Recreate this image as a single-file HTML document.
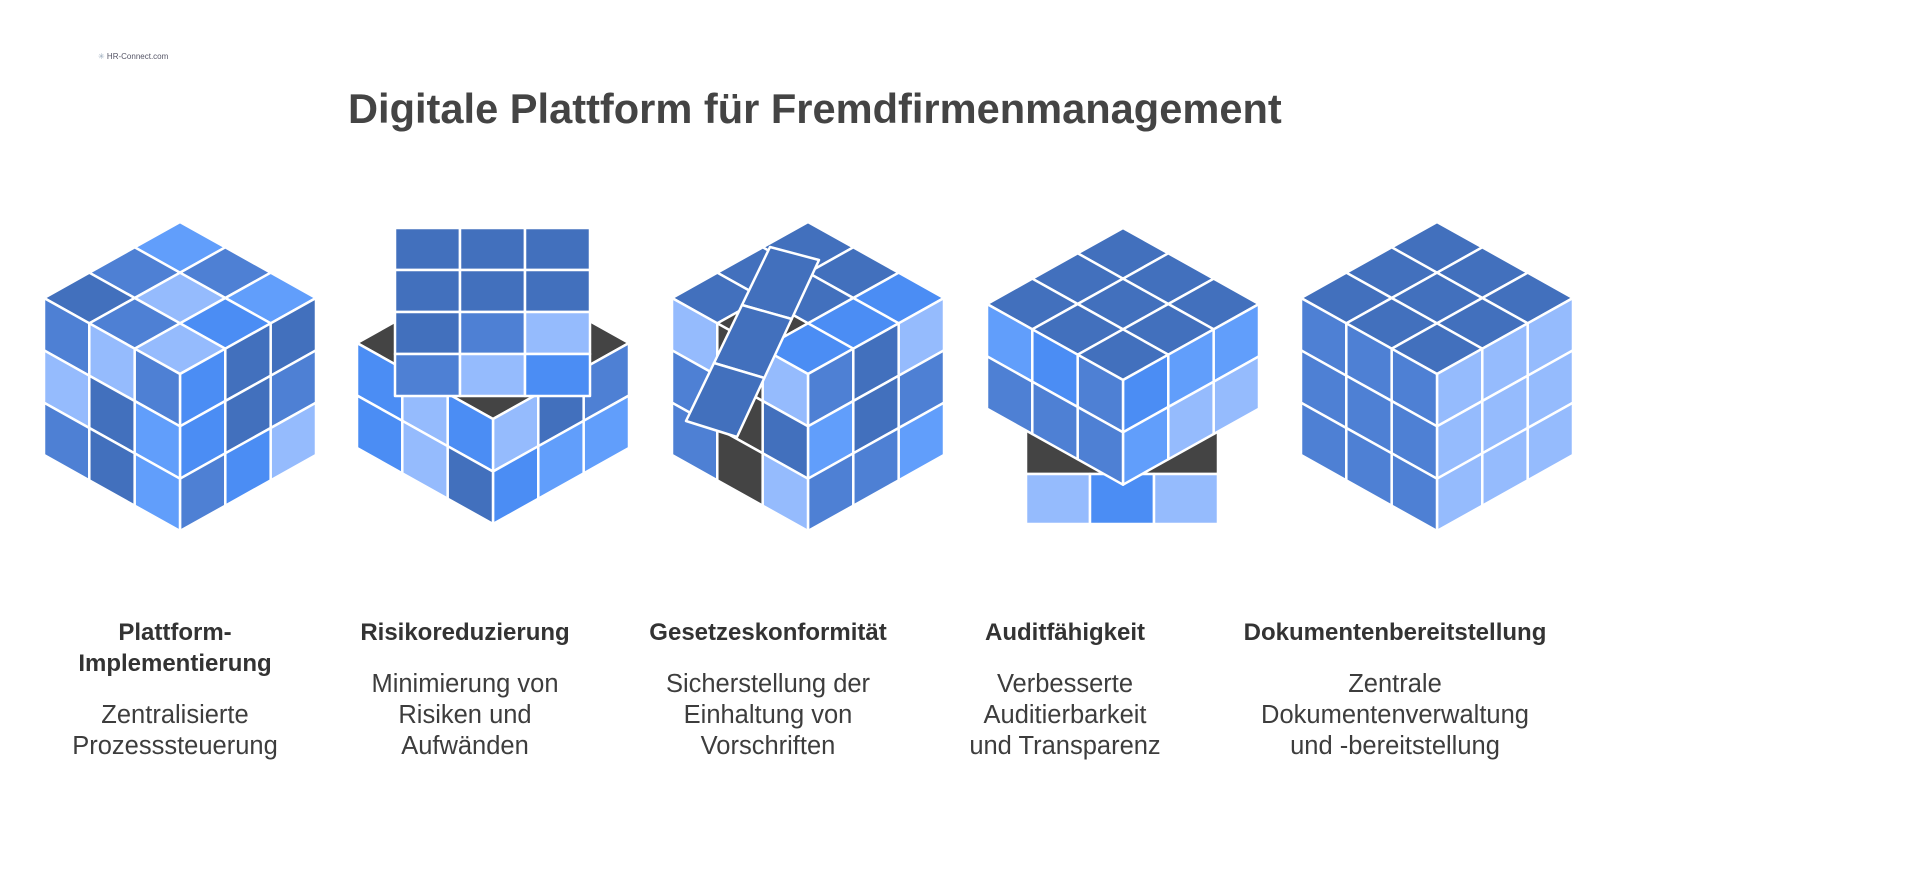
<!DOCTYPE html>
<html><head><meta charset="utf-8">
<style>
html,body{margin:0;padding:0;background:#fff;}
body{width:1920px;height:869px;position:relative;overflow:hidden;font-family:"Liberation Sans",Arial,sans-serif;color:#3d3d3d;}
#title{position:absolute;left:348px;top:85px;font-size:41.6px;font-weight:bold;color:#444;white-space:nowrap;}
.col{position:absolute;width:340px;text-align:center;}
.h{font-weight:bold;font-size:24px;line-height:31px;color:#333;}
.d{font-size:25.5px;line-height:31px;color:#3d3d3d;margin-top:21px;}
#logo{position:absolute;left:98px;top:52px;font-size:8px;color:#556;}
svg{position:absolute;left:0;top:0;}
</style></head><body>
<svg id="s" width="1920" height="869" viewBox="0 0 1920 869"></svg>
<div id="logo"><span style="color:#9ab">✳</span> HR-Connect.com</div>
<div id="title">Digitale Plattform für Fremdfirmenmanagement</div>
<div class="col" style="left:5px;top:617px"><div class="h">Plattform-<br>Implementierung</div><div class="d">Zentralisierte<br>Prozesssteuerung</div></div>
<div class="col" style="left:295px;top:617px"><div class="h">Risikoreduzierung</div><div class="d">Minimierung von<br>Risiken und<br>Aufwänden</div></div>
<div class="col" style="left:598px;top:617px"><div class="h">Gesetzeskonformität</div><div class="d">Sicherstellung der<br>Einhaltung von<br>Vorschriften</div></div>
<div class="col" style="left:895px;top:617px"><div class="h">Auditfähigkeit</div><div class="d">Verbesserte<br>Auditierbarkeit<br>und Transparenz</div></div>
<div class="col" style="left:1225px;top:617px"><div class="h">Dokumentenbereitstellung</div><div class="d">Zentrale<br>Dokumentenverwaltung<br>und -bereitstellung</div></div>
<script>
var C={D:"#4270bd",M:"#4e80d4",B:"#4b8df4",L:"#619efb",P:"#95bbfd",K:"#444444"};
var s=document.getElementById("s"),out="";
function poly(pts,f){out+='<polygon points="'+pts.map(function(p){return p[0].toFixed(1)+","+p[1].toFixed(1)}).join(" ")+'" fill="'+(C[f]||f)+'" stroke="#fff" stroke-width="2.5" stroke-linejoin="round"/>';}
var a=136,b=76,h=157;
function cube(cx,ty,top,left,right,rows){
 rows=rows||3;
 function T(u,v){return [cx-a*u/3+a*v/3,ty+b*u/3+b*v/3];}
 function Lf(s2,t){return [cx-a+a*s2/3,ty+b+b*s2/3+h*t/3];}
 function Rf(s2,t){return [cx+a*s2/3,ty+2*b-b*s2/3+h*t/3];}
 if(top){for(var i=0;i<3;i++)for(var j=0;j<3;j++){var f=top[i*3+j];if(f)poly([T(i,j),T(i+1,j),T(i+1,j+1),T(i,j+1)],f);}}
 for(var c=0;c<3;c++)for(var r=0;r<rows;r++){
  var f=left[c*rows+r];if(f)poly([Lf(c,r),Lf(c+1,r),Lf(c+1,r+1),Lf(c,r+1)],f);
  f=right[c*rows+r];if(f)poly([Rf(c,r),Rf(c+1,r),Rf(c+1,r+1),Rf(c,r+1)],f);}
}
function lp(p,q,t){return [p[0]+(q[0]-p[0])*t,p[1]+(q[1]-p[1])*t];}
// cube 1
cube(180,222,["L","M","L","M","P","B","D","M","P"],["M","P","M","P","D","D","M","L","L"],["B","B","M","D","D","B","D","M","P"]);
// cube 2
(function(){var cx=493,ty=267,hh=105;
 var h0=h;h=hh*1.5;
 poly([[cx,ty],[cx-a,ty+b],[cx,ty+2*b],[cx+a,ty+b]],"K");
 cube(cx,ty,null,["B","B","P","P","B","D"],["P","B","D","L","M","L"],2);
 h=h0;
 var x0=395,y0=228,w=65,hg=42,cols=[["D","D","D"],["D","D","D"],["D","M","P"],["M","P","B"]];
 for(var r=0;r<4;r++)for(var c=0;c<3;c++){var x=x0+c*w,y=y0+r*hg;poly([[x,y],[x+w,y],[x+w,y+hg],[x,y+hg]],cols[r][c]);}
})();
// cube 3
cube(808,222,["D","D","B","D","D","B","D","K","B"],["P","M","M","K","K","K","P","D","P"],["M","L","M","D","D","M","P","M","L"]);
(function(){var A=[770,247],B=[819,260],Cc=[737,437],Dd=[686,421];
 for(var k=0;k<3;k++){var t0=k/3,t1=(k+1)/3;
  poly([lp(A,Dd,t0),lp(B,Cc,t0),lp(B,Cc,t1),lp(A,Dd,t1)],"D");}
})();
// cube 4
(function(){var cx=1123,ty=228;
 poly([[1026,431],[1218,431],[1218,474],[1026,474]],"K");
 var xs=[1026,1090,1154,1218],cl=["P","B","P"];
 for(var i=0;i<3;i++)poly([[xs[i],474],[xs[i+1],474],[xs[i+1],524],[xs[i],524]],cl[i]);
 cube(cx,ty,["D","D","D","D","D","D","D","D","D"],["L","M","B","M","M","M"],["B","L","L","P","L","P"],2);
})();
// cube 5
cube(1437,222,["D","D","D","D","D","D","D","D","D"],["M","M","M","M","M","M","M","M","M"],["P","P","P","P","P","P","P","P","P"]);
s.innerHTML=out;
</script>
</body></html>
